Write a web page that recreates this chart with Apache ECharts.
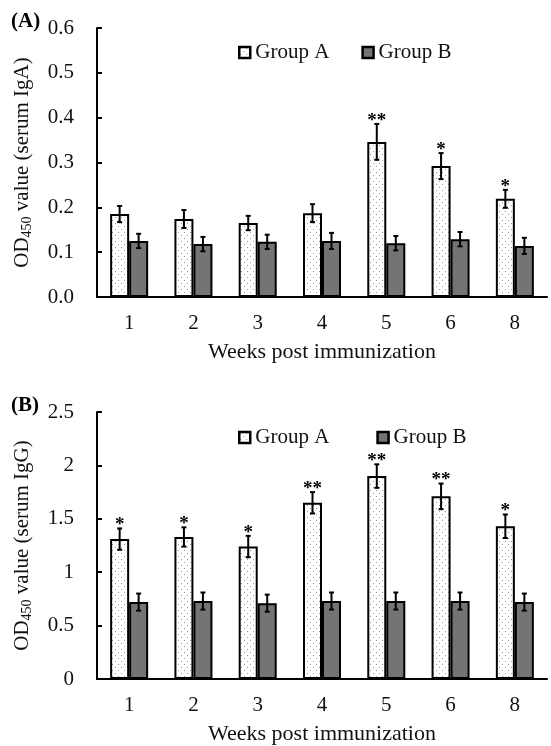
<!DOCTYPE html>
<html>
<head>
<meta charset="utf-8">
<script src="https://cdn.jsdelivr.net/npm/echarts@6/dist/echarts.min.js"></script>
<style>
  html, body { margin: 0; padding: 0; background: #fff; }
  #main { width: 551px; height: 746px; }
</style>
</head>
<body>
<div id="main"></div>
<script>
// weeks post immunization
var weeks = ['1', '2', '3', '4', '5', '6', '8'];

// (A) serum IgA
var igaA = [0.185, 0.174, 0.165, 0.187, 0.346, 0.292, 0.219];
var igaAErr = [0.018, 0.020, 0.016, 0.020, 0.040, 0.029, 0.020];
var igaB = [0.125, 0.118, 0.123, 0.125, 0.120, 0.129, 0.114];
var igaBErr = [0.016, 0.016, 0.016, 0.018, 0.016, 0.016, 0.018];
var igaStars = ['', '', '', '', '**', '*', '*'];

// (B) serum IgG
var iggA = [1.31, 1.33, 1.24, 1.65, 1.90, 1.71, 1.43];
var iggAErr = [0.10, 0.09, 0.10, 0.10, 0.11, 0.12, 0.11];
var iggB = [0.72, 0.73, 0.71, 0.73, 0.73, 0.73, 0.72];
var iggBErr = [0.08, 0.08, 0.08, 0.08, 0.08, 0.08, 0.08];
var iggStars = ['*', '*', '*', '**', '**', '**', '*'];

var noStars = ['', '', '', '', '', '', ''];

var FONT = '"Liberation Serif", "DejaVu Serif", serif';
var BAR_W = 19;

// dotted fill for group A
var dots = document.createElement('canvas');
dots.width = 6;
dots.height = 6;
var dctx = dots.getContext('2d');
dctx.fillStyle = '#fff';
dctx.fillRect(0, 0, 6, 6);
dctx.fillStyle = '#9a9a9a';
dctx.fillRect(1, 1, 1, 1);
dctx.fillRect(4, 4, 1, 1);
var fillA = { image: dots, repeat: 'repeat' };
var fillB = '#747474';

function errRender(stars, offset) {
	return function(params, api) {
		var i = api.value(0);
		var v = api.value(1);
		var e = api.value(2);
		var top = api.coord([i, v + e]);
		var bot = api.coord([i, v - e]);
		var x = top[0] + offset;
		var st = { stroke: '#000', lineWidth: 2 };
		var kids = [
			{ type: 'line', shape: { x1: x, y1: top[1], x2: x, y2: bot[1] }, style: st },
			{ type: 'line', shape: { x1: x - 2.5, y1: top[1], x2: x + 2.5, y2: top[1] }, style: st },
			{ type: 'line', shape: { x1: x - 2.5, y1: bot[1], x2: x + 2.5, y2: bot[1] }, style: st }
		];
		var s = stars[params.dataIndex];
		if (s) {
			kids.push({
				type: 'text',
				style: {
					text: s, x: x, y: top[1] - 3, align: 'center', verticalAlign: 'middle',
					font: 'bold 19px ' + FONT, fill: '#000'
				}
			});
		}
		return { type: 'group', children: kids };
	};
}

function errData(vals, errs) {
	return vals.map(function(v, i) {
		return [i, v, errs[i]];
	});
}

function yName(tag) {
	return '{a|OD}{s|450}{a| value (serum ' + tag + ')}';
}

var axisLine = { lineStyle: { color: '#000', width: 2 } };
var nameRich = {
	a: { fontFamily: FONT, fontSize: 21, color: '#111', lineHeight: 24 },
	s: { fontFamily: FONT, fontSize: 14, color: '#111', lineHeight: 24, padding: [10, 0, 0, 0] }
};

function xAxisOf(gi) {
	return {
		type: 'category',
		gridIndex: gi,
		data: weeks,
		axisLine: axisLine,
		axisTick: { inside: true, length: 5, lineStyle: { color: '#000', width: 2 } },
		axisLabel: { color: '#111', fontFamily: FONT, fontSize: 21, margin: 16 },
		name: 'Weeks post immunization',
		nameLocation: 'middle',
		nameGap: 44,
		nameTextStyle: { color: '#111', fontFamily: FONT, fontSize: 22 }
	};
}

function yAxisOf(gi, max, step, fmt, tag) {
	return {
		type: 'value',
		gridIndex: gi,
		min: 0,
		max: max,
		interval: step,
		splitLine: { show: false },
		axisLine: { show: true, lineStyle: { color: '#000', width: 2 } },
		axisTick: { show: true, inside: true, length: 5, lineStyle: { color: '#000', width: 2 } },
		axisLabel: { color: '#111', fontFamily: FONT, fontSize: 21, margin: 23, formatter: fmt },
		name: yName(tag),
		nameLocation: 'middle',
		nameGap: 63,
		nameTextStyle: { rich: nameRich }
	};
}

function barSeries(name, idx, vals, fill) {
	return {
		name: name,
		type: 'bar',
		xAxisIndex: idx,
		yAxisIndex: idx,
		data: vals,
		barWidth: BAR_W,
		barGap: '0%',
		itemStyle: { color: fill, borderColor: '#000', borderWidth: 2 },
		emphasis: { disabled: true }
	};
}

function errSeries(idx, vals, errs, stars, offset) {
	return {
		type: 'custom',
		xAxisIndex: idx,
		yAxisIndex: idx,
		data: errData(vals, errs),
		encode: { x: 0, y: 1 },
		renderItem: errRender(stars, offset),
		z: 5
	};
}

var legendText = { color: '#111', fontFamily: FONT, fontSize: 21 };
var legendIcon = { borderColor: '#000', borderWidth: 2.5 };
var panelTitle = { color: '#000', fontFamily: FONT, fontSize: 21, fontWeight: 'bold' };

option = {
	animation: false,
	backgroundColor: '#fff',
	title: [
		{ text: '(A)', left: 6, top: 6, textStyle: panelTitle },
		{ text: '(B)', left: 6, top: 390, textStyle: panelTitle }
	],
	legend: [
		{
			left: 238, top: 42, padding: 0, itemWidth: 11, itemHeight: 11, itemGap: 32, icon: 'rect',
			textStyle: legendText, itemStyle: legendIcon,
			selectedMode: false, data: ['Group A', 'Group B']
		},
		{
			left: 238, top: 427, padding: 0, itemWidth: 11, itemHeight: 11, itemGap: 47, icon: 'rect',
			textStyle: legendText, itemStyle: legendIcon,
			selectedMode: false, data: ['Group A', 'Group B']
		}
	],
	grid: [
		{ left: 97, top: 28, width: 450, height: 269 },
		{ left: 97, top: 412, width: 450, height: 267 }
	],
	xAxis: [xAxisOf(0), xAxisOf(1)],
	yAxis: [
		yAxisOf(0, 0.6, 0.1, function(v) { return v.toFixed(1); }, 'IgA'),
		yAxisOf(1, 2.5, 0.5, null, 'IgG')
	],
	series: [
		barSeries('Group A', 0, igaA, fillA),
		barSeries('Group B', 0, igaB, fillB),
		errSeries(0, igaA, igaAErr, igaStars, -BAR_W / 2),
		errSeries(0, igaB, igaBErr, noStars, BAR_W / 2),
		barSeries('Group A', 1, iggA, fillA),
		barSeries('Group B', 1, iggB, fillB),
		errSeries(1, iggA, iggAErr, iggStars, -BAR_W / 2),
		errSeries(1, iggB, iggBErr, noStars, BAR_W / 2)
	]
};

myChart = echarts.init(document.getElementById('main'));
myChart.setOption(option, true);
</script>
</body>
</html>
